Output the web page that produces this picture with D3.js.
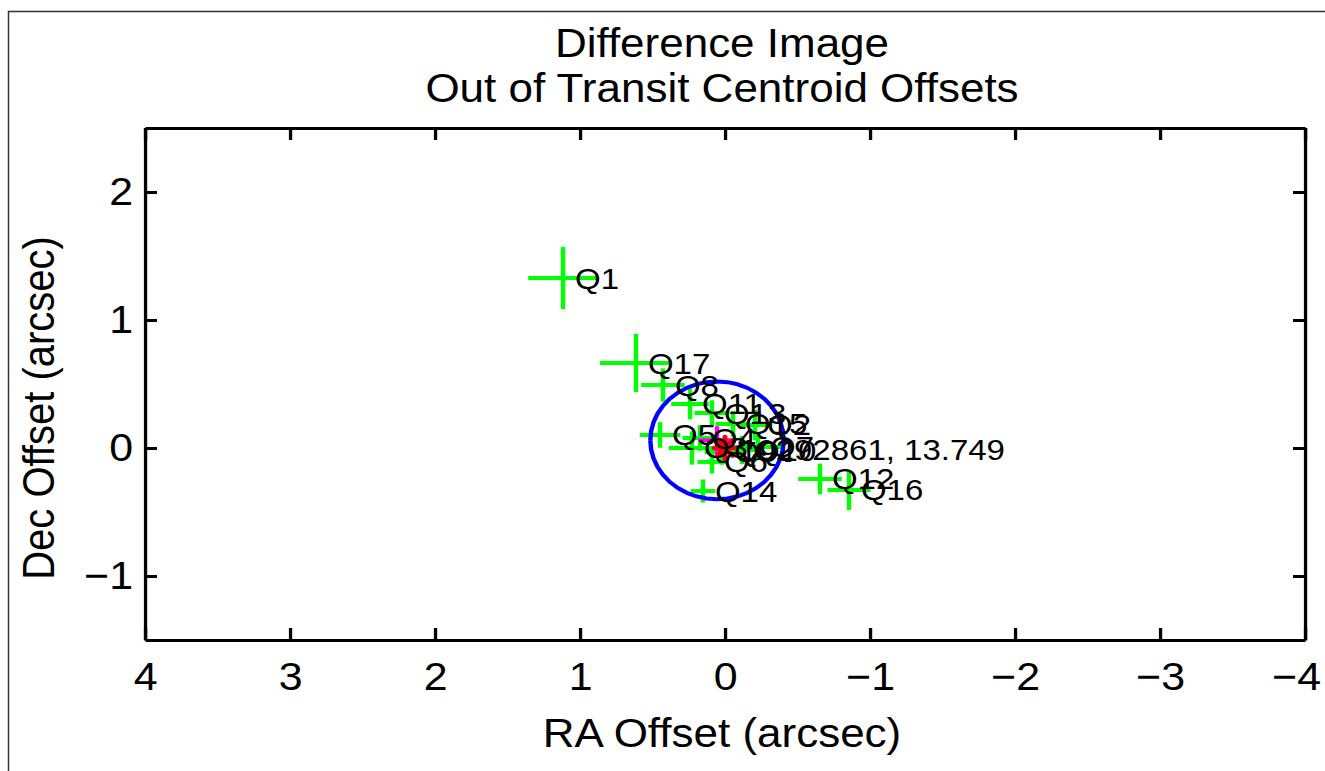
<!DOCTYPE html>
<html>
<head>
<meta charset="utf-8">
<script src="https://cdn.jsdelivr.net/npm/d3@7"></script>
<style>
  html, body { margin: 0; padding: 0; background: #fff; }
  svg { display: block; }
  text { font-family: "Liberation Sans", Arial, Helvetica, sans-serif; fill: #000; }
</style>
</head>
<body>
<div id="chart"></div>
<script>
// ---------------- data ----------------
const quarters   = ["Q1","Q2","Q3","Q4","Q5","Q6","Q7","Q8","Q9","Q10","Q11","Q12","Q13","Q14","Q15","Q16","Q17"];
const raOffsets  = [1.117,-0.207,0.228,0.172,0.448,0.090,-0.228,0.428,0.021,-0.117,0.241,-0.655,0.090,0.152,-0.055,-0.855,0.614];
const decOffsets = [1.328,0.180,0.000,0.078,0.102,-0.109,0.008,0.492,-0.031,-0.016,0.344,-0.242,0.273,-0.336,0.188,-0.328,0.664];
const raErrors   = [0.240,0.120,0.160,0.120,0.140,0.100,0.170,0.150,0.120,0.130,0.130,0.150,0.120,0.085,0.120,0.148,0.248];
const decErrors  = [0.242,0.120,0.130,0.100,0.100,0.090,0.100,0.130,0.100,0.110,0.120,0.120,0.100,0.090,0.100,0.156,0.227];

const meanOffset = { ra: 0.055, dec: 0.06, raErr: 0.13, decErr: 0.11 };
const circleRadius = 0.46;            // arcsec, 3-sigma circle about the mean offset
const target = { ra: 0, dec: 0, label: "10292861, 13.749" };

const raTicks  = [4,3,2,1,0,-1,-2,-3,-4];
const decTicks = [-1,0,1,2];
const titleLines = ["Difference Image", "Out of Transit Centroid Offsets"];
const xTitle = "RA Offset (arcsec)";
const yTitle = "Dec Offset (arcsec)";

// ---------------- layout ----------------
const W = 1325, H = 771;
const SX = 1.1;                       // horizontal stretch of the original figure
const pLeft = 145, pRight = 1305, pTop = 128, pBottom = 640;
const fmt = v => (v < 0 ? "\u2212" + Math.abs(v) : String(v));

const svg = d3.select("#chart").append("svg").attr("width", W).attr("height", H);

svg.append("rect")
  .attr("x", 8.5).attr("y", 11.5).attr("width", W + 20).attr("height", H + 20)
  .attr("fill", "none").attr("stroke", "#333").attr("stroke-width", 1.5);

const g = svg.append("g").attr("transform", `scale(${SX},1)`);

const x = d3.scaleLinear().domain([4, -4]).range([pLeft / SX, pRight / SX]);
const y = d3.scaleLinear().domain([-1.5, 2.5]).range([pBottom, pTop]);

// ---------------- axes ----------------
function styleAxis(sel) {
  sel.select(".domain").attr("stroke", "#000").attr("stroke-width", 3);
  sel.selectAll(".tick line").attr("stroke", "#000").attr("stroke-width", 3);
  sel.selectAll("text").attr("font-size", 39).attr("font-family", '"Liberation Sans", Arial, sans-serif').attr("fill", "#000");
}

const xAxisG = g.append("g").attr("transform", `translate(0,${pBottom})`)
  .call(d3.axisBottom(x).tickValues(raTicks).tickFormat(fmt).tickSizeInner(-12).tickSizeOuter(0).tickPadding(22))
  .call(styleAxis);
// the last label is pulled in so that it stays inside the figure, as in the original
xAxisG.selectAll(".tick text").filter(d => d === raTicks[raTicks.length - 1]).attr("dx", -9 / SX);

g.append("g").attr("transform", `translate(0,${pTop})`)
  .call(d3.axisTop(x).tickValues(raTicks).tickFormat("").tickSizeInner(-12).tickSizeOuter(0))
  .call(styleAxis);
g.append("g").attr("transform", `translate(${pLeft / SX},0)`)
  .call(d3.axisLeft(y).tickValues(decTicks).tickFormat(fmt).tickSizeInner(-12 / SX).tickSizeOuter(0).tickPadding(12 / SX))
  .call(styleAxis);
g.append("g").attr("transform", `translate(${pRight / SX},0)`)
  .call(d3.axisRight(y).tickValues(decTicks).tickFormat("").tickSizeInner(-12 / SX).tickSizeOuter(0))
  .call(styleAxis);

// ---------------- green crosshairs ----------------
const pts = quarters.map((q, i) => ({ q, ra: raOffsets[i], dec: decOffsets[i], er: raErrors[i], ed: decErrors[i] }));
const cross = g.append("g").attr("stroke", "#00ff00").attr("stroke-width", 4).attr("fill", "none");
pts.forEach(p => {
  cross.append("line").attr("x1", x(p.ra + p.er)).attr("x2", x(p.ra - p.er)).attr("y1", y(p.dec)).attr("y2", y(p.dec));
  cross.append("line").attr("x1", x(p.ra)).attr("x2", x(p.ra)).attr("y1", y(p.dec + p.ed)).attr("y2", y(p.dec - p.ed));
});

// ---------------- blue circle ----------------
const angles = d3.range(0, 361, 9);
const circ = angles.map(a => [meanOffset.ra + circleRadius * Math.cos(a * Math.PI / 180),
                              meanOffset.dec + circleRadius * Math.sin(a * Math.PI / 180)]);
g.append("path")
  .attr("d", d3.line().x(d => x(d[0])).y(d => y(d[1]))(circ))
  .attr("fill", "none").attr("stroke", "#0000ff").attr("stroke-width", 4).attr("stroke-linejoin", "round");

// ---------------- magenta mean crosshair ----------------
const mg = g.append("g").attr("stroke", "#ff00ff").attr("stroke-width", 4);
mg.append("line").attr("x1", x(meanOffset.ra + meanOffset.raErr)).attr("x2", x(meanOffset.ra - meanOffset.raErr))
  .attr("y1", y(meanOffset.dec)).attr("y2", y(meanOffset.dec));
mg.append("line").attr("x1", x(meanOffset.ra)).attr("x2", x(meanOffset.ra))
  .attr("y1", y(meanOffset.dec + meanOffset.decErr)).attr("y2", y(meanOffset.dec - meanOffset.decErr));

// ---------------- red asterisk (target) ----------------
const tx = x(target.ra), ty = y(target.dec);
const r = 11;
const star = g.append("g").attr("stroke", "#ff0000").attr("stroke-width", 4.5).attr("stroke-linecap", "round");
[[r, 0], [0, r], [0.7 * r, 0.7 * r], [0.7 * r, -0.7 * r]].forEach(([dx, dy]) => {
  star.append("line").attr("x1", tx - dx / SX).attr("x2", tx + dx / SX).attr("y1", ty - dy).attr("y2", ty + dy);
});

// ---------------- labels ----------------
const labels = g.append("g").attr("font-size", 30);
pts.forEach(p => {
  labels.append("text").attr("x", x(p.ra) + 12 / SX).attr("y", y(p.dec) + 10.5).text(p.q);
});
labels.append("text").attr("x", tx + 14 / SX).attr("y", ty + 12).text(target.label);

// ---------------- titles ----------------
g.append("text").attr("x", 722 / SX).attr("y", 57).attr("text-anchor", "middle").attr("font-size", 40).text(titleLines[0]);
g.append("text").attr("x", 722 / SX).attr("y", 102).attr("text-anchor", "middle").attr("font-size", 40).text(titleLines[1]);
g.append("text").attr("x", 722 / SX).attr("y", 747).attr("text-anchor", "middle").attr("font-size", 40).text(xTitle);
g.append("text").attr("transform", `translate(${54 / SX},408) rotate(-90)`).attr("text-anchor", "middle").attr("font-size", 40).text(yTitle);
</script>
</body>
</html>
